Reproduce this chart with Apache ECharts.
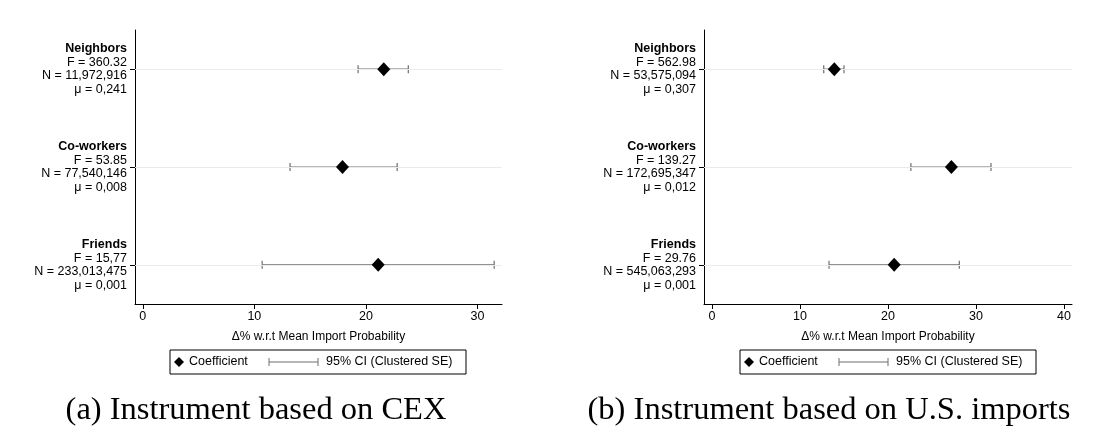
<!DOCTYPE html>
<html><head><meta charset="utf-8">
<script src="https://cdn.jsdelivr.net/npm/echarts@6/dist/echarts.min.js"></script>
<style>body{margin:0;background:#fff}#c{width:1106px;height:438px}</style></head>
<body><div id="c"></div>
<script>
const groups = ['Neighbors','Co-workers','Friends'];
const statsA = [['F = 360.32','N = 11,972,916','μ = 0,241'],['F = 53.85','N = 77,540,146','μ = 0,008'],['F = 15,77','N = 233,013,475','μ = 0,001']];
const statsB = [['F = 562.98','N = 53,575,094','μ = 0,307'],['F = 139.27','N = 172,695,347','μ = 0,012'],['F = 29.76','N = 545,063,293','μ = 0,001']];
const coefA = [21.6, 17.9, 21.1];
const loA = [19.3, 13.2, 10.7];
const hiA = [23.8, 22.8, 31.5];
const coefB = [13.9, 27.2, 20.7];
const loB = [12.7, 22.6, 13.3];
const hiB = [15.0, 31.7, 28.1];
const ticksA = [0,10,20,30];
const ticksB = [0,10,20,30,40];
const rows = [1,2,3];
const captions = ['(a) Instrument based on CEX','(b) Instrument based on U.S. imports'];

const ch = echarts.init(document.getElementById('c'));
const font = 'Liberation Sans, Arial, sans-serif';
function yAxis(i, stats){
  return {gridIndex:i, type:'value', min:0.6, max:3.4, inverse:true,
    axisLine:{show:true,onZero:false,lineStyle:{color:'#000',width:1}},
    axisTick:{show:true,customValues:rows,length:5,lineStyle:{color:'#000'}},
    splitLine:{show:false},
    axisLabel:{customValues:rows, margin:8, lineHeight:13.5, fontFamily:font,
      formatter:v=>{const k=Math.round(v)-1; return '{b|'+groups[k]+'}\n'+stats[k].join('\n');},
      rich:{b:{fontWeight:'bold',fontSize:12.5,fontFamily:font,color:'#000',lineHeight:13.5}},
      fontSize:12.5, color:'#000', align:'right'}};
}
function xAxis(i,min,max,ticks){
  return {gridIndex:i,type:'value',min:min,max:max,
    name:'Δ% w.r.t Mean Import Probability',nameLocation:'middle',nameGap:27,
    nameTextStyle:{fontFamily:font,fontSize:12,color:'#000'},
    axisLine:{show:true,onZero:false,lineStyle:{color:'#000'}},
    axisTick:{show:true,customValues:ticks,length:5,lineStyle:{color:'#000'}},
    axisLabel:{customValues:ticks,fontFamily:font,fontSize:12.5,color:'#000',margin:6},
    splitLine:{show:false}};
}
function ci(i,lo,hi){
  return {type:'custom',xAxisIndex:i,yAxisIndex:i,data:lo.map((l,k)=>[l,hi[k],k+1]),
    renderItem:(p,api)=>{const a=api.coord([api.value(0),api.value(2)]),b=api.coord([api.value(1),api.value(2)]);
      const st={stroke:'#6e6e6e',lineWidth:1.2};
      return {type:'group',children:[
        {type:'line',shape:{x1:a[0],y1:a[1],x2:b[0],y2:b[1]},style:st},
        {type:'line',shape:{x1:a[0],y1:a[1]-4,x2:a[0],y2:a[1]+4},style:st},
        {type:'line',shape:{x1:b[0],y1:b[1]-4,x2:b[0],y2:b[1]+4},style:st}]};},
    markLine:{silent:true,symbol:'none',label:{show:false},lineStyle:{color:'#e3ecee',type:'solid',width:1},
      data:rows.map(r=>({yAxis:r}))}, z:3};
}
function pts(i,c){
  return {type:'scatter',xAxisIndex:i,yAxisIndex:i,symbol:'diamond',symbolSize:[13,14],
    itemStyle:{color:'#000',opacity:1},data:c.map((v,k)=>[v,k+1]),z:5};
}
function legend(x){
  return [
    {type:'rect',shape:{x:x,y:350,width:296,height:24},style:{fill:'#fff',stroke:'#000',lineWidth:1}},
    {type:'polygon',shape:{points:[[x+9,357],[x+14,362],[x+9,367],[x+4,362]]},style:{fill:'#000'}},
    {type:'text',x:x+19,y:362,style:{text:'Coefficient',font:'12.5px '+font,fill:'#000',verticalAlign:'middle'}},
    {type:'line',shape:{x1:x+99,y1:362,x2:x+148,y2:362},style:{stroke:'#6e6e6e',lineWidth:1.2}},
    {type:'line',shape:{x1:x+99,y1:358,x2:x+99,y2:366},style:{stroke:'#6e6e6e'}},
    {type:'line',shape:{x1:x+148,y1:358,x2:x+148,y2:366},style:{stroke:'#6e6e6e'}},
    {type:'text',x:x+156,y:362,style:{text:'95% CI (Clustered SE)',font:'12.5px '+font,fill:'#000',verticalAlign:'middle'}}
  ];
}
ch.setOption({
  animation:false,
  grid:[{left:135,top:30,width:367,height:274},{left:704,top:30,width:368,height:274}],
  xAxis:[xAxis(0,-0.7,32.2,ticksA),xAxis(1,-0.9,40.9,ticksB)],
  yAxis:[yAxis(0,statsA),yAxis(1,statsB)],
  series:[ci(0,loA,hiA),pts(0,coefA),ci(1,loB,hiB),pts(1,coefB)],
  graphic:[...legend(170),...legend(740),
    {type:'text',x:256,y:410,style:{text:captions[0],font:'32.5px "Liberation Serif", serif',fill:'#000',align:'center',verticalAlign:'middle'}},
    {type:'text',x:829,y:410,style:{text:captions[1],font:'32.5px "Liberation Serif", serif',fill:'#000',align:'center',verticalAlign:'middle'}}]
});
</script></body></html>
